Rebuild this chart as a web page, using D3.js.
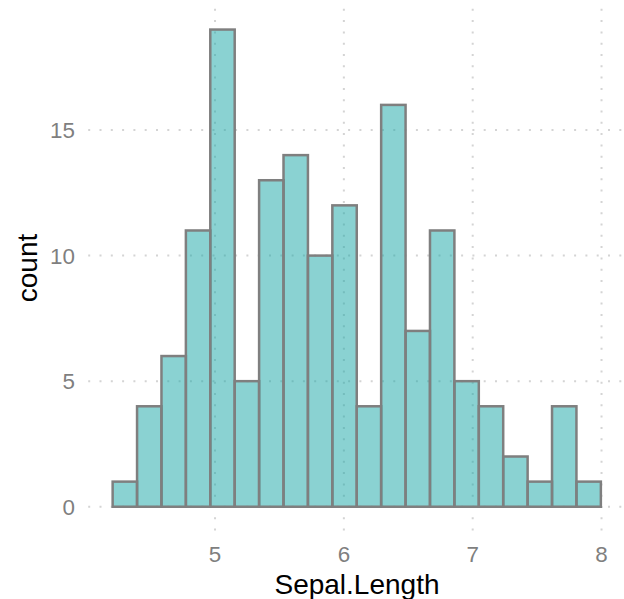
<!DOCTYPE html>
<html>
<head>
<meta charset="utf-8">
<script src="https://cdn.jsdelivr.net/npm/d3@7"></script>
<style>
  body { margin: 0; background: #fff; }
  svg { display: block; font-family: "Liberation Sans", Arial, sans-serif; }
</style>
</head>
<body>
<svg width="624" height="599"></svg>
<script>
// iris Sepal.Length, 20 bins (ggplot style: bin width = range / 19)
const counts = [1, 4, 6, 11, 19, 5, 13, 14, 10, 12, 4, 16, 7, 11, 5, 4, 2, 1, 4, 1];
const dataMin = 4.3, dataMax = 7.9;
const xTicks = [5, 6, 7, 8];
const yTicks = [0, 5, 10, 15];

const binWidth = (dataMax - dataMin) / (counts.length - 1);
const bins = counts.map((c, i) => ({
  x0: dataMin - binWidth / 2 + i * binWidth,
  x1: dataMin + binWidth / 2 + i * binWidth,
  count: c
}));

const svg = d3.select('svg');

const x = d3.scaleLinear()
  .domain([4.0155, 8.1845])
  .range([88.2, 625.3]);

const y = d3.scaleLinear()
  .domain([-0.95, 19.95])
  .range([530.6, 5.7]);

const gridColor = '#d4d4d4';

// grid
svg.append('g').selectAll('line').data(yTicks)
  .enter().append('line')
  .attr('x1', x.range()[0]).attr('x2', x.range()[1])
  .attr('y1', d => y(d)).attr('y2', d => y(d))
  .attr('stroke', gridColor)
  .attr('stroke-width', 2)
  .attr('stroke-dasharray', '2,9.3');

svg.append('g').selectAll('line').data(xTicks)
  .enter().append('line')
  .attr('x1', d => x(d)).attr('x2', d => x(d))
  .attr('y1', y.range()[0]).attr('y2', y.range()[1])
  .attr('stroke', gridColor)
  .attr('stroke-width', 2)
  .attr('stroke-dasharray', '2,9.3');

// bars
svg.append('g').selectAll('rect').data(bins)
  .enter().append('rect')
  .attr('x', d => x(d.x0))
  .attr('y', d => y(d.count))
  .attr('width', d => x(d.x1) - x(d.x0))
  .attr('height', d => y(0) - y(d.count))
  .attr('fill', '#16a6a6')
  .attr('fill-opacity', 0.5)
  .attr('stroke', '#7f7f7f')
  .attr('stroke-width', 2.5);

// tick labels
svg.append('g').selectAll('text').data(xTicks)
  .enter().append('text')
  .attr('x', d => x(d))
  .attr('y', 562)
  .attr('text-anchor', 'middle')
  .attr('fill', '#7f7f7f')
  .style('font-size', '22.4px')
  .text(d => d);

svg.append('g').selectAll('text').data(yTicks)
  .enter().append('text')
  .attr('x', 75)
  .attr('y', d => y(d) + 8)
  .attr('text-anchor', 'end')
  .attr('fill', '#7f7f7f')
  .style('font-size', '22.4px')
  .text(d => d);

// axis titles
svg.append('text')
  .attr('x', 357)
  .attr('y', 594)
  .attr('text-anchor', 'middle')
  .attr('fill', '#000')
  .style('font-size', '28px')
  .text('Sepal.Length');

svg.append('text')
  .attr('transform', 'translate(37,268) rotate(-90)')
  .attr('text-anchor', 'middle')
  .attr('fill', '#000')
  .style('font-size', '28px')
  .text('count');
</script>
</body>
</html>
